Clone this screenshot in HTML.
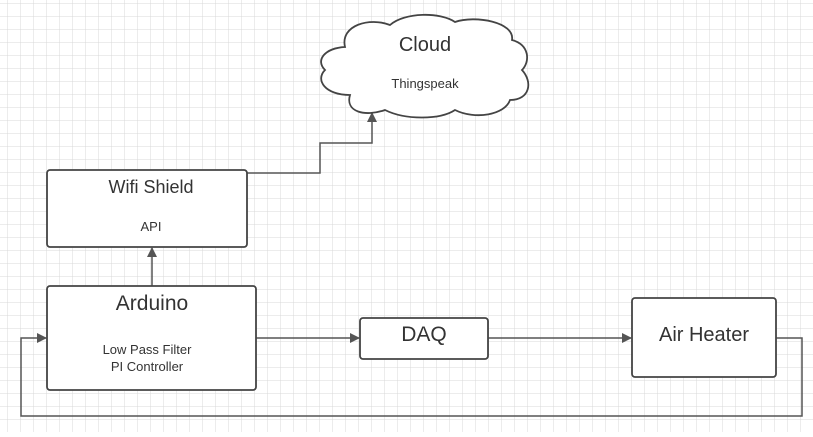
<!DOCTYPE html>
<html><head><style>
html,body{margin:0;padding:0;}
body{width:813px;height:432px;overflow:hidden;background:#fff;}
</style></head><body>
<svg width="813" height="432" xmlns="http://www.w3.org/2000/svg" font-family="Liberation Sans, sans-serif">
<defs>
<pattern id="g" width="13" height="13" patternUnits="userSpaceOnUse" x="8" y="4">
<path d="M13 0V13M0 13H13" stroke="#d8d8d8" stroke-width="1" fill="none"/>
</pattern>
<marker id="a" markerWidth="10" markerHeight="10" refX="9" refY="5" orient="auto" markerUnits="userSpaceOnUse"><path d="M0 0L10 5L0 10z" fill="#555"/></marker>
</defs>
<rect width="813" height="432" fill="url(#g)"/>
<g stroke="#555" stroke-width="1.5" fill="none">
<path d="M247 173H320V143H372V113" marker-end="url(#a)"/>
<path d="M152 286V248" marker-end="url(#a)"/>
<path d="M256 338H359" marker-end="url(#a)"/>
<path d="M488 338H631" marker-end="url(#a)"/>
<path d="M776 338H802V416H21V338H46" marker-end="url(#a)"/>
</g>
<g fill="#fff" stroke="#444" stroke-width="1.8">
<path d="M345 47 C340 25 370 17 390 25 C405 12 440 12 455 22 C475 15 515 22 512 40 C530 45 530 62 522 70 C533 82 530 100 510 100 C505 115 475 120 455 110 C440 120 405 120 385 110 C365 117 345 112 350 95 C325 95 315 80 325 70 C315 60 325 48 345 47 Z"/>
<rect x="47" y="170" width="200" height="77" rx="3"/>
<rect x="47" y="286" width="209" height="104" rx="3"/>
<rect x="360" y="318" width="128" height="41" rx="3"/>
<rect x="632" y="298" width="144" height="79" rx="3"/>
</g>
<g fill="#333" text-anchor="middle">
<text x="425" y="51" font-size="20">Cloud</text>
<text x="425" y="88" font-size="13">Thingspeak</text>
<text x="151" y="193" font-size="18">Wifi Shield</text>
<text x="151" y="231" font-size="13">API</text>
<text x="152" y="310" font-size="21">Arduino</text>
<text x="147" y="354" font-size="13">Low Pass Filter</text>
<text x="147" y="371" font-size="13">PI Controller</text>
<text x="424" y="341" font-size="21">DAQ</text>
<text x="704" y="341" font-size="20">Air Heater</text>
</g>
</svg>
</body></html>
